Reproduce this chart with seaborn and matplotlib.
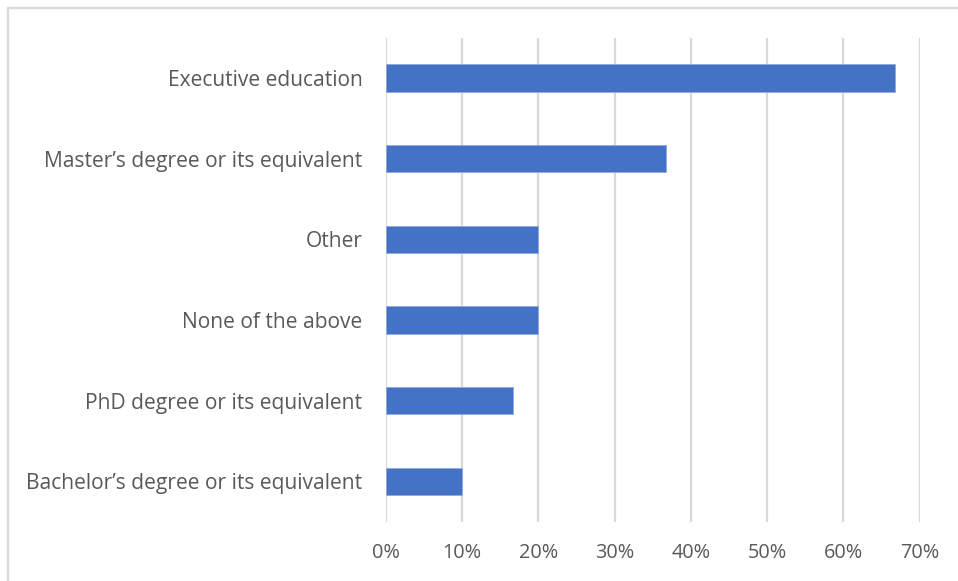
import matplotlib
matplotlib.use("Agg")
import matplotlib.pyplot as plt
import seaborn as sns
import pandas as pd
from matplotlib.ticker import PercentFormatter
from matplotlib.lines import Line2D

categories = [
    "Executive education",
    "Master\u2019s degree or its equivalent",
    "Other",
    "None of the above",
    "PhD degree or its equivalent",
    "Bachelor\u2019s degree or its equivalent",
]
shares = [0.667, 0.367, 0.20, 0.20, 0.167, 0.10]
x_ticks = [0.0, 0.1, 0.2, 0.3, 0.4, 0.5, 0.6, 0.7]

df = pd.DataFrame({"category": categories, "share": shares})

sns.set_theme(style="white")
plt.rcParams["font.family"] = ["Open Sans", "DejaVu Sans"]

fig = plt.figure(figsize=(9.58, 5.81), dpi=100)
ax = fig.add_axes([386 / 958, 1 - 521.7 / 581, (919.7 - 386) / 958, (521.7 - 37.7) / 581])

sns.barplot(data=df, x="share", y="category", order=categories,
            color="#4472C4", saturation=1, width=0.34, ax=ax,
            edgecolor="#8FAADC", linewidth=0.6)

ax.set_xlim(0, 0.7)
ax.set_ylim(5.5, -0.5)
ax.set_xticks(x_ticks)
ax.xaxis.set_major_formatter(PercentFormatter(1.0, decimals=0))
ax.grid(axis="x", color="#D9D9D9", linewidth=1.6)
ax.set_axisbelow(True)
for s in ax.spines.values():
    s.set_visible(False)
ax.set_xlabel("")
ax.set_ylabel("")
ax.tick_params(axis="x", length=0, pad=15, labelsize=14.3, labelcolor="#595959")
ax.tick_params(axis="y", length=0, pad=17, labelsize=15.1, labelcolor="#595959")

# chart-area frame (top and left edges)
fig.add_artist(Line2D([8 / 958, 1.0], [1 - 8 / 581, 1 - 8 / 581],
                      transform=fig.transFigure, color="#D9D9D9", linewidth=1.6))
fig.add_artist(Line2D([8 / 958, 8 / 958], [0.0, 1 - 8 / 581],
                      transform=fig.transFigure, color="#D9D9D9", linewidth=1.6))

fig.savefig("out.png", dpi=100)
